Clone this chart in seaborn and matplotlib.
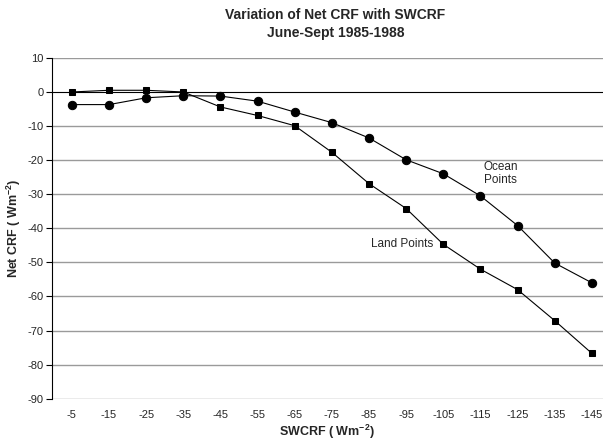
import numpy as np
import pandas as pd
import matplotlib
matplotlib.use("Agg")
import matplotlib.pyplot as plt
import seaborn as sns

# Data
SWCRF_LABELS = ['-5', '-15', '-25', '-35', '-45', '-55', '-65', '-75',
                '-85', '-95', '-105', '-115', '-125', '-135', '-145']
OCEAN_CRF = [-3.7, -3.7, -1.7, -1.1, -1.2, -2.7, -5.9, -9.0,
             -13.5, -19.9, -24.0, -30.5, -39.2, -50.2, -56.0]
LAND_CRF = [0.0, 0.5, 0.5, 0.0, -4.4, -6.9, -9.9, -17.7,
            -26.9, -34.2, -44.7, -52.0, -58.0, -67.1, -76.7]
Y_TICKS = [10, 0, -10, -20, -30, -40, -50, -60, -70, -80, -90]


def make_plot():
    sns.set_theme(style="white")
    plt.rcParams['font.family'] = ['Liberation Sans', 'DejaVu Sans']
    plt.rcParams['mathtext.fontset'] = 'custom'
    plt.rcParams['mathtext.rm'] = 'Liberation Sans:bold'
    plt.rcParams['mathtext.default'] = 'rm'

    pos = np.arange(len(SWCRF_LABELS))
    df = pd.DataFrame({
        'pos': np.concatenate([pos, pos]),
        'crf': OCEAN_CRF + LAND_CRF,
        'kind': ['Ocean'] * len(pos) + ['Land'] * len(pos),
    })

    fig = plt.figure(figsize=(6.03, 4.42), dpi=100)
    ax = fig.add_axes([0.086, 0.098, 0.914, 0.771])

    # grid lines
    for y in Y_TICKS:
        if y == 0:
            continue
        ax.axhline(y, color='#9a9a9a', lw=1.0, zorder=0)
    ax.axhline(0, color='black', lw=0.8, zorder=1)

    sns.lineplot(data=df[df.kind == 'Ocean'], x='pos', y='crf', ax=ax,
                 color='black', lw=0.8, marker='o', markersize=6,
                 markeredgecolor='black', sort=False, zorder=3)
    sns.lineplot(data=df[df.kind == 'Land'], x='pos', y='crf', ax=ax,
                 color='black', lw=0.8, marker='s', markersize=4.8,
                 markeredgecolor='black', sort=False, zorder=3)

    ax.set_xlim(-0.54, 14.3)
    ax.set_ylim(-90, 10)
    ax.set_xticks(pos)
    ax.set_xticklabels(SWCRF_LABELS, fontsize=8)
    ax.set_yticks(Y_TICKS)
    ax.set_yticklabels([str(t) for t in Y_TICKS], fontsize=8)
    ax.tick_params(axis='x', length=0, pad=8)
    ax.tick_params(axis='y', length=4, width=0.8, color='black', pad=2,
                   direction='out', left=True)

    for side in ['top', 'right', 'bottom']:
        ax.spines[side].set_visible(False)
    ax.spines['left'].set_color('black')
    ax.spines['left'].set_linewidth(0.8)

    ax.set_xlabel('SWCRF ( Wm$^{-2}$)', fontsize=9, fontweight='bold',
                  labelpad=2)
    ax.set_ylabel('Net CRF ( Wm$^{-2}$)', fontsize=9, fontweight='bold',
                  labelpad=3)

    ax.text(11.55, -24, 'Ocean\nPoints', fontsize=8.5, ha='center',
            va='center', multialignment='center', linespacing=1.15)
    ax.text(9.73, -44.6, 'Land Points', fontsize=8.5, ha='right', va='center')

    fig.text(0.556, 0.946, 'Variation of Net CRF with SWCRF\nJune-Sept 1985-1988',
             ha='center', va='center', fontsize=10, fontweight='bold',
             linespacing=1.35)

    fig.savefig('out.png', dpi=100)
    plt.close(fig)


if __name__ == "__main__":
    make_plot()
